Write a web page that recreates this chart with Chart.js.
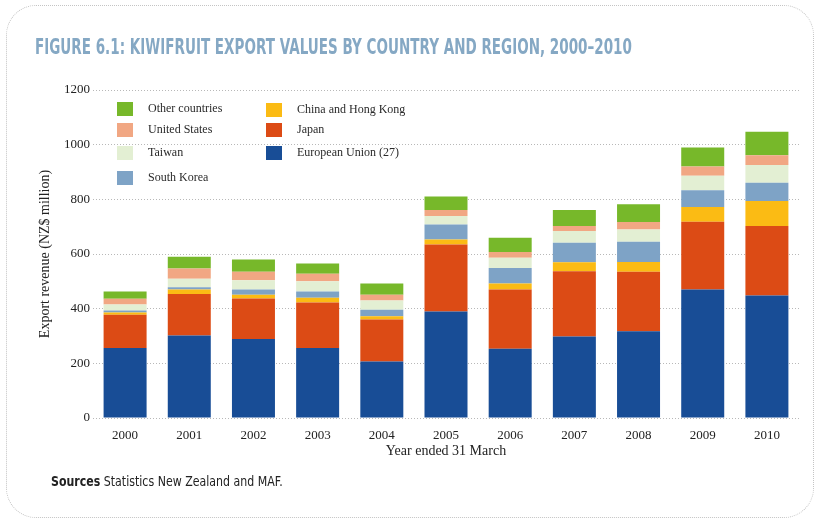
<!DOCTYPE html>
<html><head><meta charset="utf-8">
<script src="https://cdn.jsdelivr.net/npm/chart.js@4/dist/chart.umd.min.js"></script>
<style>
html,body{margin:0;padding:0;background:#fff;width:819px;height:523px;overflow:hidden}
#wrap{position:relative;width:819px;height:523px}
#frame{position:absolute;left:6px;top:5px;width:808px;height:513px;border:1px dotted #c4c4c4;border-radius:30px;box-sizing:border-box}
canvas{position:absolute;left:0;top:0}
#title{position:absolute;left:35px;top:35px;font-family:"Liberation Sans Narrow","DejaVu Sans",sans-serif;font-weight:700;font-size:21px;line-height:24px;color:#85a8c4;white-space:nowrap;transform-origin:0 0}
#src{position:absolute;left:51px;top:473px;font-family:"Liberation Sans Narrow","DejaVu Sans",sans-serif;font-size:14px;line-height:16px;color:#222;white-space:nowrap;transform-origin:0 0}
#src b{font-weight:700}
</style></head>
<body><div id="wrap">
<div id="frame"></div>
<canvas id="c" width="819" height="523"></canvas>
<div id="title">FIGURE 6.1: KIWIFRUIT EXPORT VALUES BY COUNTRY AND REGION, 2000–2010</div>
<div id="src"><b>Sources</b> Statistics New Zealand and MAF.</div>
</div>
<script>
const years = ['2000','2001','2002','2003','2004','2005','2006','2007','2008','2009','2010'];
const seriesNames = ['European Union (27)','Japan','China and Hong Kong','South Korea','Taiwan','United States','Other countries'];
const euValues     = [256, 302, 289, 256, 207, 390, 253, 298, 317, 470, 448];
const japanValues  = [122, 152, 148, 167, 153, 245, 217, 239, 218, 248, 254];
const chinaValues  = [8, 16, 14, 17, 12, 18, 22, 33, 36, 54, 92];
const koreaValues  = [7, 8, 19, 23, 24, 55, 57, 71, 74, 61, 67];
const taiwanValues = [22, 31, 34, 37, 34, 31, 37, 43, 45, 53, 65];
const usValues     = [21, 38, 31, 28, 21, 22, 21, 18, 27, 34, 35];
const otherValues  = [27, 43, 45, 37, 41, 49, 52, 59, 65, 70, 86];
const yTicks = [0, 200, 400, 600, 800, 1000, 1200];

const colors = ['#184d96','#dc4b15','#fbbb14','#7ea3c6','#e3efd3','#f1a783','#77b82a'];
const allValues = [euValues, japanValues, chinaValues, koreaValues, taiwanValues, usValues, otherValues];

const serif = '"Liberation Serif","DejaVu Serif",serif';

const legendPlugin = {
  id: 'customLegend',
  afterDraw(chart) {
    const ctx = chart.ctx;
    // [datasetIndex, swatchX, centerY]
    const layout = [[6,117,109],[5,117,130],[4,117,153],[3,117,178],[2,266,110],[1,266,130],[0,266,153]];
    ctx.save();
    ctx.font = '12px ' + serif;
    ctx.textBaseline = 'middle';
    ctx.textAlign = 'left';
    layout.forEach(([i,x,y]) => {
      const ds = chart.data.datasets[i];
      ctx.fillStyle = ds.backgroundColor;
      ctx.fillRect(x, y-7, 16, 14);
      ctx.fillStyle = '#2a2a2a';
      ctx.fillText(ds.label, x+31, y);
    });
    ctx.restore();
  }
};

new Chart(document.getElementById('c'), {
  type: 'bar',
  data: {
    labels: years,
    datasets: seriesNames.map((n,i) => ({
      label: n, data: allValues[i], backgroundColor: colors[i],
      borderWidth: 0, barPercentage: 1, categoryPercentage: 0.67
    }))
  },
  options: {
    responsive: false, animation: false,
    layout: {padding: {left: 0, right: 20, top: 90, bottom: 59}},
    plugins: {legend: {display: false}, tooltip: {enabled: false}, title: {display: false}},
    scales: {
      x: {
        stacked: true,
        afterFit(s){ s.height = 46; },
        grid: {display: false},
        border: {display: false},
        ticks: {padding: 2, color: '#222', font: {family: serif, size: 13}},
        title: {display: true, text: 'Year ended 31 March', color: '#222', font: {family: serif, size: 14}, padding: {top: 0, bottom: 4}}
      },
      y: {
        stacked: true, min: 0, max: 1200,
        afterBuildTicks(s){ s.ticks = yTicks.map(v => ({value: v})); },
        afterFit(s){ s.width = 93; },
        ticks: {padding: 3, color: '#222', font: {family: serif, size: 13}, callback: v => String(v)},
        grid: {color: '#b8b8b8', drawTicks: false, lineWidth: 1},
        border: {display: false, dash: [1, 2]},
        title: {display: true, text: 'Export revenue (NZ$ million)', color: '#222', font: {family: serif, size: 14}, padding: {top: 37, bottom: 0}}
      }
    }
  },
  plugins: [legendPlugin]
});

function fit(id, w){ const el = document.getElementById(id); el.style.transform = 'scaleX(' + (w / el.offsetWidth) + ')'; }
fit('title', 597);
fit('src', 232);
</script>
</body></html>
